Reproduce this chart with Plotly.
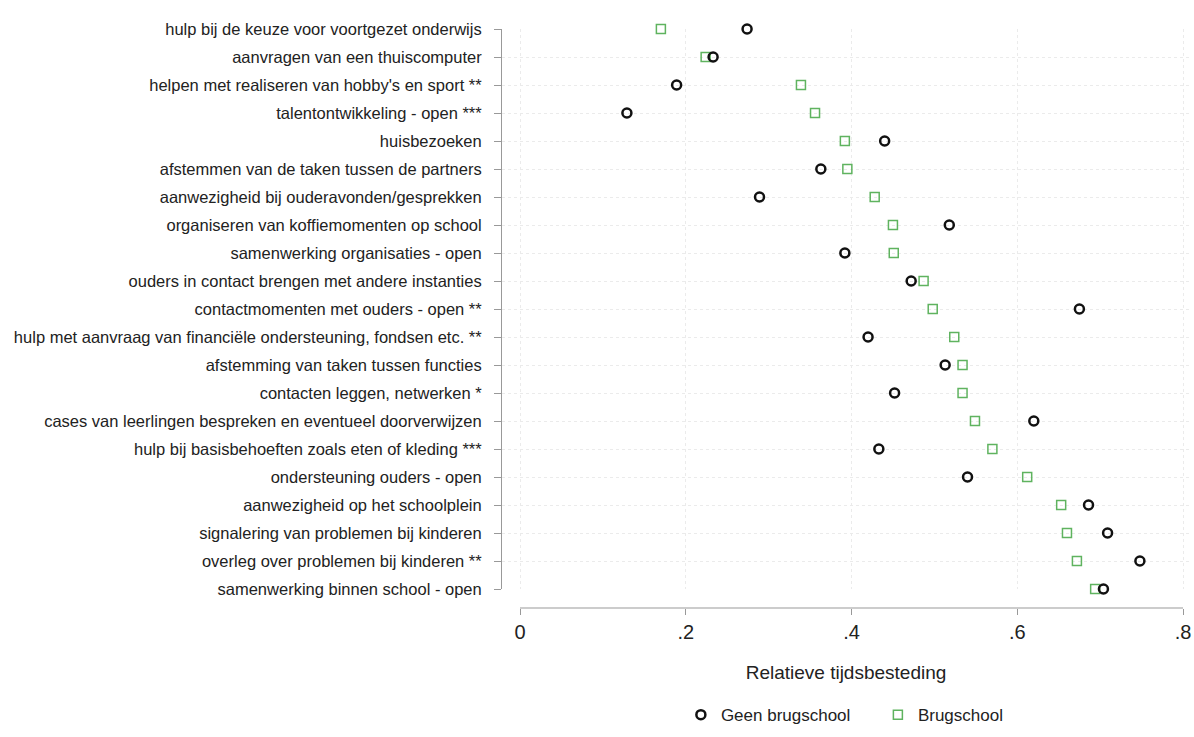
import plotly.graph_objects as go

categories = [
    "hulp bij de keuze voor voortgezet onderwijs",
    "aanvragen van een thuiscomputer",
    "helpen met realiseren van hobby's en sport **",
    "talentontwikkeling - open ***",
    "huisbezoeken",
    "afstemmen van de taken tussen de partners",
    "aanwezigheid bij ouderavonden/gesprekken",
    "organiseren van koffiemomenten op school",
    "samenwerking organisaties - open",
    "ouders in contact brengen met andere instanties",
    "contactmomenten met ouders - open **",
    "hulp met aanvraag van financiële ondersteuning, fondsen etc. **",
    "afstemming van taken tussen functies",
    "contacten leggen, netwerken *",
    "cases van leerlingen bespreken en eventueel doorverwijzen",
    "hulp bij basisbehoeften zoals eten of kleding ***",
    "ondersteuning ouders - open",
    "aanwezigheid op het schoolplein",
    "signalering van problemen bij kinderen",
    "overleg over problemen bij kinderen **",
    "samenwerking binnen school - open",
]

geen_brugschool = [0.274, 0.233, 0.189, 0.129, 0.440, 0.363, 0.289, 0.518, 0.392, 0.472,
                   0.675, 0.420, 0.513, 0.452, 0.620, 0.433, 0.540, 0.686, 0.709, 0.748, 0.704]
brugschool = [0.170, 0.224, 0.339, 0.356, 0.392, 0.395, 0.428, 0.450, 0.451, 0.487,
              0.498, 0.524, 0.534, 0.534, 0.549, 0.570, 0.612, 0.653, 0.660, 0.672, 0.694]

x_tickvals = [0, 0.2, 0.4, 0.6, 0.8]
x_ticktext = ["0", ".2", ".4", ".6", ".8"]

FONT = "Liberation Sans, Arial, sans-serif"

fig = go.Figure()
fig.add_trace(go.Scatter(
    x=brugschool, y=categories, mode="markers", name="Brugschool",
    marker=dict(symbol="square-open", size=9, color="#5fb35f", line=dict(width=1.5, color="#5fb35f")),
    cliponaxis=False, legendrank=2,
))
fig.add_trace(go.Scatter(
    x=geen_brugschool, y=categories, mode="markers", name="Geen brugschool",
    marker=dict(symbol="circle-open", size=9, color="#111111", line=dict(width=2.5, color="#111111")),
    cliponaxis=False, legendrank=1,
))

fig.update_layout(
    width=1194, height=737,
    margin=dict(l=502, r=4, t=29, b=129),
    paper_bgcolor="white", plot_bgcolor="white",
    font=dict(family=FONT, color="#222222", size=16),
    showlegend=True,
    legend=dict(
        orientation="h", x=0.26, xanchor="left", y=-0.185, yanchor="middle",
        font=dict(size=17, color="#222222"), bgcolor="rgba(0,0,0,0)",
        entrywidth=152, entrywidthmode="pixels",
    ),
    xaxis=dict(
        range=[-0.02172, 0.80845], anchor="free", position=0,
        tickvals=x_tickvals, ticktext=x_ticktext,
        showline=False, zeroline=False,
        ticks="outside", ticklen=6, tickcolor="#999999", tickwidth=1,
        ticklabelstandoff=0,
        tickfont=dict(size=20, color="#222222"),
        showgrid=True, gridcolor="#ebebeb", griddash="dot", gridwidth=1,
        title=dict(text="Relatieve tijdsbesteding", font=dict(size=19, color="#222222"), standoff=23),
        automargin=False,
    ),
    yaxis=dict(
        type="category", categoryorder="array", categoryarray=categories,
        range=[len(categories) - 1, 0], domain=[19 / 579, 1],
        showline=True, linecolor="#999999", linewidth=1,
        ticks="outside", ticklen=7, tickcolor="#999999",
        ticklabelstandoff=9,
        tickfont=dict(size=16.5, color="#222222"),
        showgrid=True, gridcolor="#ebebeb", griddash="dot", gridwidth=1,
        zeroline=False, automargin=False,
    ),
)

fig.add_shape(type="line", xref="x", yref="paper", x0=x_tickvals[0], x1=x_tickvals[-1], y0=0, y1=0,
              line=dict(color="#999999", width=1))

fig.write_html("out.html")
